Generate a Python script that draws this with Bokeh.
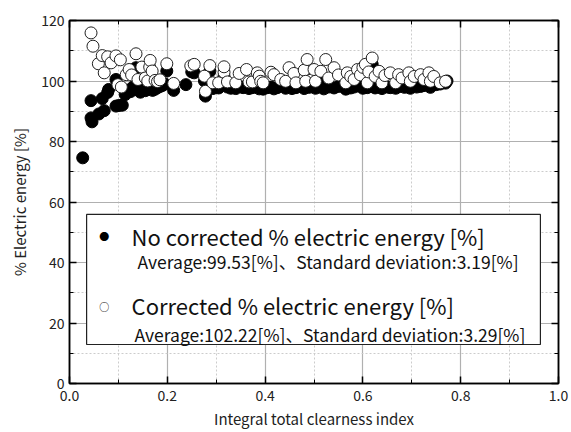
from bokeh.plotting import figure
from bokeh.models import (LinearAxis, FixedTicker, BoxAnnotation, Label, Range1d, PrintfTickFormatter)
from bokeh.embed import file_html
from bokeh.resources import INLINE

FONT = "Noto Sans CJK JP"

no_corr_x = [0.027,0.044,0.044,0.046,0.060,0.067,0.071,0.078,0.080,0.095,0.101,0.108,0.095,0.114,0.120,0.125,
             0.130,0.136,0.140,0.145,0.150,0.155,0.160,0.165,0.170,0.175,0.180,0.185,0.190,0.195,0.199,0.213,
             0.238,0.250,0.255,0.276,0.278,0.287,0.293,0.300,0.305,0.316,0.323,0.330,0.340,0.347,0.355,0.362,
             0.367,0.374,0.380,0.388,0.391,0.396,0.405,0.412,0.418,0.425,0.432,0.442,0.449,0.455,0.463,0.470,
             0.480,0.486,0.490,0.500,0.503,0.510,0.514,0.520,0.530,0.541,0.550,0.565,0.575,0.582,0.589,0.600,
             0.605,0.609,0.619,0.625,0.633,0.639,0.650,0.656,0.667,0.673,0.685,0.694,0.697,0.710,0.718,0.725,
             0.735,0.738,0.750,0.758,0.769,0.772]
no_corr_y = [74.6,93.5,87.8,86.5,89.1,94.2,90.2,96.2,97.2,91.7,91.9,92.0,100.5,95.5,97.0,96.5,
             98.0,104.4,97.5,96.3,98.5,96.8,97.2,99.0,96.9,97.3,97.8,98.2,98.5,99.0,103.3,96.9,
             98.8,103.0,102.7,100.0,95.0,103.2,97.5,98.0,97.7,101.5,98.0,97.6,97.5,98.2,97.8,98.5,
             97.5,97.8,98.3,97.4,98.0,97.3,97.8,98.0,97.4,97.8,98.5,97.6,98.2,97.5,97.8,98.3,
             97.5,104.0,97.9,98.5,97.6,98.0,100.5,97.4,98.0,97.7,98.2,97.3,97.7,98.0,98.4,97.6,
             98.5,97.8,105.5,97.7,98.0,97.5,98.0,97.8,97.6,98.1,97.9,98.3,97.6,98.0,98.2,98.5,
             99.0,97.9,98.8,99.0,99.3,100.0]

corr_x = [0.044,0.048,0.059,0.067,0.071,0.078,0.085,0.095,0.099,0.104,0.106,0.116,0.122,0.127,0.136,0.140,
          0.148,0.155,0.160,0.164,0.165,0.169,0.175,0.180,0.185,0.199,0.213,0.248,0.255,0.276,0.278,0.287,
          0.293,0.305,0.316,0.316,0.323,0.340,0.347,0.362,0.367,0.374,0.384,0.388,0.391,0.396,0.412,0.418,
          0.432,0.442,0.449,0.459,0.463,0.480,0.483,0.486,0.500,0.503,0.514,0.524,0.530,0.541,0.550,0.565,
          0.568,0.575,0.582,0.589,0.595,0.600,0.605,0.609,0.612,0.619,0.625,0.633,0.639,0.645,0.656,0.667,
          0.673,0.680,0.694,0.697,0.705,0.718,0.725,0.735,0.738,0.745,0.758,0.769]
corr_y = [115.9,111.5,105.7,108.4,102.7,108.0,106.0,108.3,98.8,107.0,98.0,102.1,103.8,102.0,109.0,100.5,
          104.6,101.0,100.0,104.6,106.8,103.3,100.2,99.8,100.4,105.7,99.2,105.0,105.5,101.6,96.6,105.1,
          99.4,99.4,102.9,104.7,99.7,99.4,102.5,103.8,99.7,99.7,102.7,101.6,99.9,99.4,102.9,102.1,
          100.5,99.9,104.4,102.5,99.4,103.6,99.9,107.1,103.8,99.9,103.2,107.1,101.0,104.4,102.0,99.4,
          102.7,101.5,100.5,103.8,102.0,104.5,105.5,99.4,103.0,107.6,101.5,103.2,99.4,101.8,102.7,99.4,
          102.1,101.0,102.7,99.9,101.5,102.1,100.5,102.7,99.9,101.5,99.4,99.9]

x_ticks = [0.0, 0.2, 0.4, 0.6, 0.8, 1.0]
x_minor = [0.1, 0.3, 0.5, 0.7, 0.9]
y_ticks = [0, 20, 40, 60, 80, 100, 120]
y_minor = [10, 30, 50, 70, 90, 110]

legend_main = ["No corrected % electric energy [%]", "Corrected % electric energy [%]"]
legend_sub = ["Average:99.53[%]、Standard deviation:3.19[%]", "Average:102.22[%]、Standard deviation:3.29[%]"]

p = figure(width=571, height=431, output_backend="svg", toolbar_location=None,
           x_range=Range1d(0, 1), y_range=Range1d(0, 120),
           min_border_left=69, min_border_right=13, min_border_top=20, min_border_bottom=47)
p.outline_line_color = "black"
p.outline_line_width = 1.5

xt = FixedTicker(ticks=x_ticks, minor_ticks=x_minor)
yt = FixedTicker(ticks=y_ticks, minor_ticks=y_minor)

for ax in p.xaxis:
    ax.ticker = xt
    ax.formatter = PrintfTickFormatter(format="%.1f")
    ax.axis_label = "Integral total clearness index"
for ax in p.yaxis:
    ax.ticker = yt
    ax.axis_label = "% Electric energy [%]"
for ax in list(p.xaxis) + list(p.yaxis):
    ax.major_tick_in = 7
    ax.major_tick_out = 0
    ax.minor_tick_in = 4
    ax.minor_tick_out = 0
    ax.axis_line_width = 1.5
    ax.major_tick_line_width = 1.5
    ax.major_label_text_font = FONT
    ax.major_label_text_font_size = "14px"
    ax.major_label_text_color = "#222222"
    ax.axis_label_text_font = FONT
    ax.axis_label_text_font_size = "15px"
    ax.axis_label_text_font_style = "normal"
    ax.axis_label_text_color = "#222222"
    ax.major_label_standoff = 5
    ax.axis_label_standoff = 8
p.xaxis.major_label_standoff = 6
p.xaxis.axis_label_standoff = 4

top = LinearAxis(ticker=xt, major_label_overrides={t: "" for t in x_ticks}, major_tick_in=7, major_tick_out=0,
                 minor_tick_in=4, minor_tick_out=0, axis_line_width=1.5, major_tick_line_width=1.5)
right = LinearAxis(ticker=yt, major_label_overrides={t: "" for t in y_ticks}, major_tick_in=7, major_tick_out=0,
                   minor_tick_in=4, minor_tick_out=0, axis_line_width=1.5, major_tick_line_width=1.5)
p.add_layout(top, "above")
p.add_layout(right, "right")

p.xgrid.ticker = xt
p.ygrid.ticker = yt
for g in [p.xgrid[0], p.ygrid[0]]:
    g.grid_line_color = "#b0b0b0"
    g.grid_line_width = 1.2
    g.minor_grid_line_color = "#cccccc"
    g.minor_grid_line_dash = "2 2"
    g.minor_grid_line_width = 1

p.scatter(no_corr_x, no_corr_y, size=12, fill_color="black", line_color="black", line_width=1)
p.scatter(corr_x, corr_y, size=12, fill_color="white", line_color="#222222", line_width=1)

box = BoxAnnotation(left=0.035, right=0.963, bottom=12.9, top=55.9, fill_color="white", fill_alpha=1,
                    line_color="#222222", line_alpha=1, line_width=1.2)
p.add_layout(box)

p.add_layout(Label(x=0.071, y=48.6, text="●", text_font=FONT, text_font_size="10px", text_align="center",
                   text_baseline="middle", text_color="black", level="overlay"))
p.add_layout(Label(x=0.071, y=25.5, text="○", text_font=FONT, text_font_size="10px", text_align="center",
                   text_baseline="middle", text_color="black", level="overlay"))

for i, (yv, ys, xs) in enumerate([(48.6, 40.3, 0.139), (25.8, 16.2, 0.133)]):
    p.add_layout(Label(x=0.127, y=yv, text=legend_main[i], text_font=FONT, text_font_size="22px",
                       text_baseline="middle", text_color="#111111", level="overlay"))
    p.add_layout(Label(x=xs, y=ys, text=legend_sub[i], text_font=FONT, text_font_size="17.5px",
                       text_baseline="middle", text_color="#111111", level="overlay"))

open("out.html", "w").write(file_html(p, INLINE))
